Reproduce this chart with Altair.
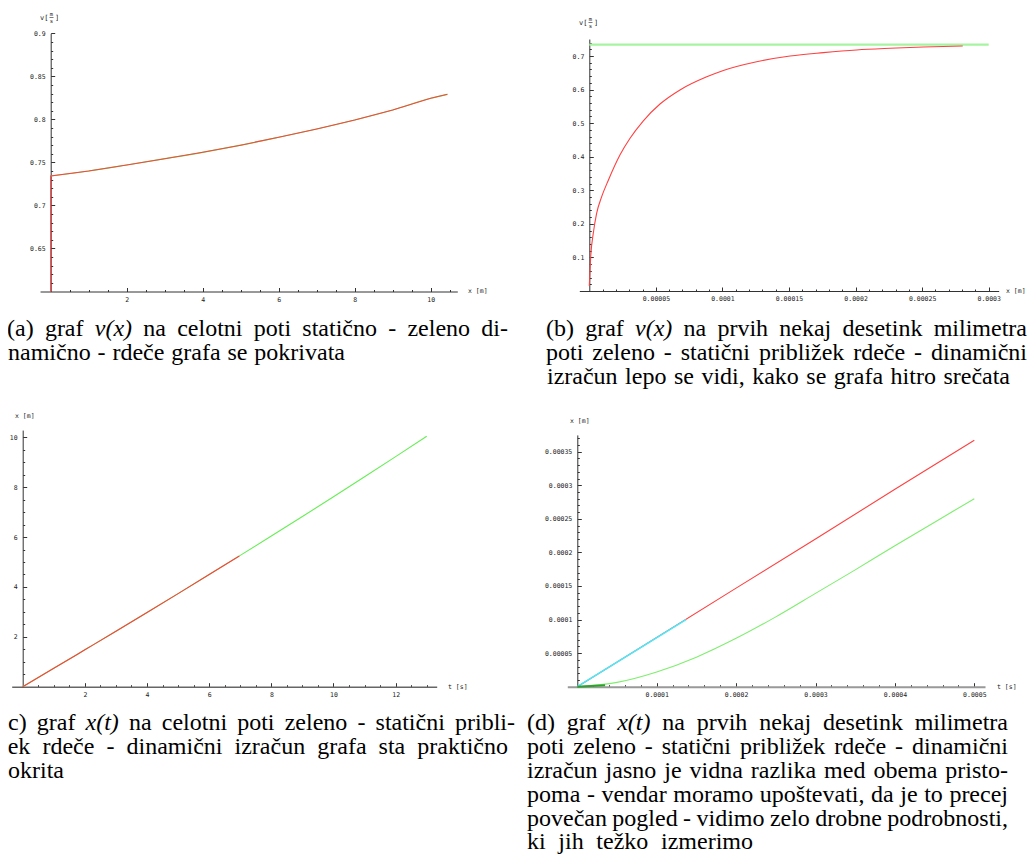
import altair as alt
import pandas as pd

W, H, M = 1020, 847, 8
SERIF = "'Liberation Serif', 'Times New Roman', Times, serif"
MONO = "'DejaVu Sans Mono', 'Liberation Mono', monospace"

# ---------------- data ----------------
# (a) v(x) over the whole path
a_x_dyn = [0, 0, 1, 2, 3, 4, 5, 6, 7, 8, 9, 10, 10.44]
a_v_dyn = [0.6, 0.7342, 0.740, 0.747, 0.7543, 0.7617, 0.770, 0.7792, 0.7888, 0.7993, 0.8109, 0.8245, 0.8291]
a_x_stat = [0, 1, 2, 3, 4, 5, 6, 7, 8, 9, 10, 10.44]
a_v_stat = [0.7342, 0.740, 0.747, 0.7543, 0.7617, 0.770, 0.7792, 0.7888, 0.7993, 0.8109, 0.8245, 0.8291]

# (b) v(x) on the first few tenths of a millimetre
b_x_dyn = [0, 0.00000105, 0.000003, 0.0000055, 0.0000093, 0.0000143, 0.000023, 0.0000306,
           0.0000406, 0.0000531, 0.0000681, 0.0000882, 0.0001007, 0.0001257, 0.0001508,
           0.0001758, 0.0002008, 0.0002259, 0.0002509, 0.0002805]
b_v_dyn = [0.015, 0.102, 0.172, 0.231, 0.281, 0.330, 0.405, 0.455, 0.507, 0.557, 0.599, 0.638,
           0.657, 0.683, 0.700, 0.710, 0.718, 0.723, 0.727, 0.730]
b_x_stat = [0, 0.0003]
b_v_stat = [0.7337, 0.7337]

# (c) x(t) over the whole path
c_t_stat = [0, 1, 2, 3, 4, 5, 6, 7, 8, 9, 10, 11, 12, 13]
c_x_stat = [0, 0.737, 1.48, 2.224, 2.974, 3.732, 4.496, 5.265, 6.04, 6.824, 7.615, 8.415, 9.224, 10.04]
c_t_dyn = [0, 1, 2, 3, 4, 5, 6, 6.97]
c_x_dyn = [0, 0.737, 1.48, 2.224, 2.974, 3.732, 4.496, 5.24]

# (d) x(t) on the first few tenths of a millimetre
d_t_dyn = [0, 0.0001, 0.0002, 0.0003, 0.0004, 0.0005]
d_x_dyn = [0, 0.0000734, 0.0001468, 0.00022, 0.000294, 0.000367]
d_t_cyan = [0, 0.000137]
d_x_cyan = [0, 0.0001]
d_t_stat = [0, 0.00005, 0.0001, 0.00015, 0.0002, 0.00025, 0.0003, 0.00035, 0.0004, 0.00045, 0.0005]
d_x_stat = [0, 0.0000065, 0.000022, 0.000044, 0.000072, 0.000104, 0.000139, 0.000174, 0.00021, 0.000245, 0.00028]
d_t_start = [0, 0.000035]
d_x_start = [0, 0.000002]

# tick values
a_xt = [2, 4, 6, 8, 10]
a_xm = [round(0.5 * i, 2) for i in range(1, 22) if i % 4]
a_yt = [0.65, 0.7, 0.75, 0.8, 0.85, 0.9]
a_ym = [round(0.6 + 0.01 * i, 3) for i in range(1, 30) if i % 5]
b_xt = [0.00005, 0.0001, 0.00015, 0.0002, 0.00025, 0.0003]
b_xm = [round(0.00001 * i, 8) for i in range(1, 31) if i % 5]
b_yt = [0.1, 0.2, 0.3, 0.4, 0.5, 0.6, 0.7]
b_ym = [round(0.02 * i, 3) for i in range(1, 38) if i % 5]
c_xt = [2, 4, 6, 8, 10, 12]
c_xm = [round(0.5 * i, 2) for i in range(1, 27) if i % 4]
c_yt = [2, 4, 6, 8, 10]
c_ym = [round(0.5 * i, 2) for i in range(1, 21) if i % 4]
d_xt = [0.0001, 0.0002, 0.0003, 0.0004, 0.0005]
d_xm = [round(0.00002 * i, 8) for i in range(1, 26) if i % 5]
d_yt = [0.00005, 0.0001, 0.00015, 0.0002, 0.00025, 0.0003, 0.00035]
d_ym = [round(0.00001 * i, 8) for i in range(1, 38) if i % 5]

# captions, word by word per line
cap_a = [["(a)", "graf", "v(x)", "na", "celotni", "poti", "statično", "-", "zeleno", "di-"],
         ["namično", "-", "rdeče", "grafa", "se", "pokrivata"]]
cap_b = [["(b)", "graf", "v(x)", "na", "prvih", "nekaj", "desetink", "milimetra"],
         ["poti", "zeleno", "-", "statični", "približek", "rdeče", "-", "dinamični"],
         ["izračun", "lepo", "se", "vidi,", "kako", "se", "grafa", "hitro", "srečata"]]
cap_c = [["(c)", "graf", "x(t)", "na", "celotni", "poti", "zeleno", "-", "statični", "pribli-"],
         ["žek", "rdeče", "-", "dinamični", "izračun", "grafa", "sta", "praktično"],
         ["pokrita"]]
cap_d = [["(d)", "graf", "x(t)", "na", "prvih", "nekaj", "desetink", "milimetra"],
         ["poti", "zeleno", "-", "statični", "približek", "rdeče", "-", "dinamični"],
         ["izračun", "jasno", "je", "vidna", "razlika", "med", "obema", "pristo-"],
         ["poma", "-", "vendar", "moramo", "upoštevati,", "da", "je", "to", "precej"],
         ["povečan", "pogled", "-", "vidimo", "zelo", "drobne", "podrobnosti,"],
         ["ki", "jih", "težko", "izmerimo"]]
MATH = {"v(x)", "x(t)"}

RED = "#ff4040"
GREEN = "#66ee55"

blank = pd.DataFrame({"k": [0]})


def dfo(xs, ys):
    return pd.DataFrame({"x": xs, "y": ys, "i": list(range(len(xs)))})


def make_panel(ox, oy, kx, ky, xd, yd, xt, xm, yt, ym, series, dcol="#333", dwidth=1):
    xr = [ox - M + xd[0] * kx, ox - M + xd[1] * kx]
    yr = [oy - M, oy - M - (yd[1] - yd[0]) * ky]

    def xs(axis):
        return alt.X("x:Q", scale=alt.Scale(domain=xd, range=xr, zero=False, nice=False), axis=axis)

    def ys(axis):
        return alt.Y("y:Q", scale=alt.Scale(domain=yd, range=yr, zero=False, nice=False), axis=axis)

    common = dict(grid=False, title=None, labelFlush=False, labelOverlap=False,
                  tickColor="#333", labelFont=MONO, labelFontSize=6.5, labelColor="#222")
    xa = alt.Axis(orient="top", offset=-(oy - M), values=xt, format="~r", tickSize=4,
                  labelPadding=-8.5, labelBaseline="top", labelAlign="center",
                  domainColor=dcol, domainWidth=dwidth, **common)
    ya = alt.Axis(orient="right", offset=(ox - M) - W, values=yt, format="~r", tickSize=4,
                  labelPadding=-9.5, labelAlign="right", labelBaseline="middle",
                  domainColor="#333", domainWidth=1, **common)
    xma = alt.Axis(orient="top", offset=-(oy - M), values=xm, tickSize=2, labels=False,
                   domain=False, grid=False, title=None, tickColor="#333")
    yma = alt.Axis(orient="right", offset=(ox - M) - W, values=ym, tickSize=2, labels=False,
                   domain=False, grid=False, title=None, tickColor="#333")
    first = series[0]
    layers = [
        alt.Chart(dfo(first[0], first[1])).mark_line(opacity=0).encode(
            x=xs(xma), y=ys(yma), order="i:Q"),
        alt.Chart(dfo(first[0], first[1])).mark_line(opacity=0).encode(
            x=xs(xa), y=ys(ya), order="i:Q"),
    ]
    for xv, yv, col, sw, interp in series:
        layers.append(
            alt.Chart(dfo(xv, yv)).mark_line(color=col, strokeWidth=sw, interpolate=interp).encode(
                x=xs(None), y=ys(None), order="i:Q"))
    return layers


layers = []
layers += make_panel(50.7, 291.5, 38.0, 860.7, [-0.28, 10.7], [0.6, 0.9],
                     a_xt, a_xm, a_yt, a_ym,
                     [(a_x_stat, a_v_stat, GREEN, 1.2, "monotone"),
                      (a_x_dyn, a_v_dyn, RED, 1.1, "linear")])
layers += make_panel(589.3, 291.0, 1331333.0, 335.7, [-0.0000075, 0.0003075], [0, 0.7506],
                     b_xt, b_xm, b_yt, b_ym,
                     [(b_x_stat, b_v_stat, "#a6f3a0", 2.2, "linear"),
                      (b_x_dyn, b_v_dyn, RED, 1.1, "monotone")])
layers += make_panel(22.7, 686.7, 31.08, 24.94, [-0.354, 13.32], [0, 10.29],
                     c_xt, c_xm, c_yt, c_ym,
                     [(c_t_stat, c_x_stat, GREEN, 1.1, "monotone"),
                      (c_t_dyn, c_x_dyn, RED, 1.1, "monotone")],
                     dcol="#666", dwidth=1.5)
layers += make_panel(577.3, 686.7, 794000.0, 671428.6, [-0.0000126, 0.0005135], [0, 0.000375],
                     d_xt, d_xm, d_yt, d_ym,
                     [(d_t_stat, d_x_stat, "#7fee6f", 1.1, "monotone"),
                      (d_t_dyn, d_x_dyn, RED, 1.1, "linear"),
                      (d_t_cyan, d_x_cyan, "#44eeff", 1.5, "linear"),
                      (d_t_start, d_x_start, "#2f9f2f", 2, "linear")],
                     dcol="#999", dwidth=2)


def txt(s, x, y, size=24, font=SERIF, italic=False, align="left", baseline="alphabetic", color="#000"):
    kw = dict(text=s, font=font, fontSize=size, align=align, baseline=baseline, color=color)
    if italic:
        kw["fontStyle"] = "italic"
    return alt.Chart(blank).mark_text(**kw).encode(x=alt.value(x - M), y=alt.value(y - M))


def rule(x1, x2, y):
    return alt.Chart(blank).mark_rule(color="#222", strokeWidth=0.6).encode(
        x=alt.value(x1 - M), x2=alt.value(x2 - M), y=alt.value(y - M))


# axis titles
def vtitle(x, y):
    return [txt("v[", x, y, size=7, font=MONO, color="#222"),
            txt("m", x + 11.5, y - 4, size=5.5, font=MONO, align="center", color="#222"),
            txt("s", x + 11.5, y + 2.5, size=5.5, font=MONO, align="center", color="#222"),
            rule(x + 9.5, x + 13.5, y - 2.5),
            txt("]", x + 15, y, size=7, font=MONO, color="#222")]


layers += vtitle(40, 20)
layers += vtitle(579, 25)
small = dict(size=6.5, font=MONO, baseline="middle", color="#222")
layers += [txt("x [m]", 468, 291, **small), txt("x [m]", 1006, 291, **small),
           txt("x [m]", 15, 416, **small), txt("t [s]", 448, 687, **small),
           txt("x [m]", 570, 421, **small), txt("t [s]", 997, 687, **small)]

# Times / Liberation Serif advance widths (per 1000 em)
TW = {" ": 250, "(": 333, ")": 333, "-": 333, ",": 250, "a": 444, "b": 500, "c": 444, "d": 500,
      "e": 444, "f": 333, "g": 500, "h": 500, "i": 278, "j": 278, "k": 500, "l": 278, "m": 778,
      "n": 500, "o": 500, "p": 500, "r": 333, "s": 389, "t": 278, "u": 500, "v": 500, "x": 500,
      "z": 444, "č": 444, "ž": 444, "š": 389}
TWI = dict(TW, v=444, x=444)
FS = 24


def wwidth(w, italic):
    t = TWI if italic else TW
    return sum(t.get(ch, 500) for ch in w) * FS / 1000


def caption_line(words, x0, x1, y):
    its = [w in MATH for w in words]
    ws = [wwidth(w, it) for w, it in zip(words, its)]
    out = []
    if len(words) == 1 or x1 is None:
        gap = 0.25 * FS
    else:
        gap = (x1 - x0 - sum(ws)) / (len(words) - 1)
    x = x0
    for k, (w, it, wd) in enumerate(zip(words, its, ws)):
        if x1 is not None and k == len(words) - 1 and len(words) > 1:
            out.append(txt(w, x1, y, italic=it, align="right"))
        else:
            out.append(txt(w, x, y, italic=it))
        x += wd + gap
    return out


top_y = [336.0, 360.0, 384.0]
for words, ext, y in zip(cap_a, [(7, 508), (8, 345)], top_y):
    layers += caption_line(words, ext[0], ext[1], y)
for words, ext, y in zip(cap_b, [(546, 1027), (546, 1027), (547, 1010)], top_y):
    layers += caption_line(words, ext[0], ext[1], y)
bot_y = [729.5, 753.5, 777.5, 801.5, 825.5, 849.0]
for words, ext, y in zip(cap_c, [(0, 515), (-3, 508), (-4, None)], bot_y):
    layers += caption_line(words, ext[0], ext[1], y)
d_ext = [(527, 1008)] * 5 + [(527, 753)]
for words, ext, y in zip(cap_d, d_ext, bot_y):
    layers += caption_line(words, ext[0], ext[1], y)

chart = (
    alt.layer(*layers)
    .resolve_scale(x="independent", y="independent")
    .properties(width=W, height=H, autosize=alt.AutoSizeParams(type="none"), padding=0)
    .configure_view(stroke=None)
    .configure_axis(grid=False)
)

chart.save("out.html", embed_options={"renderer": "svg", "actions": False})
